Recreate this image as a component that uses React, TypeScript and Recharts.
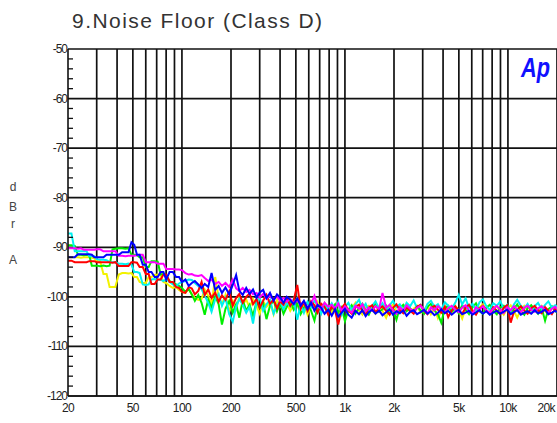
import React from 'react';
import { LineChart, Line, XAxis, YAxis, ReferenceLine } from 'recharts';

const freq = [
  20, 21, 22, 23, 24, 25, 26, 27, 28, 29, 30,
  31.5, 33, 34.5, 36, 37.5, 39, 41, 43, 45, 47, 49,
  51, 53, 55, 57.5, 60, 62.5, 65, 68, 71, 74, 77, 80,
  84, 88, 92, 96, 100, 105, 110, 115, 120, 126, 132, 138,
  145, 152, 160, 168, 176, 185, 195, 205, 215, 225, 236, 248,
  260, 273, 287, 300, 315, 330, 347, 365, 383, 400, 420, 440,
  462, 485, 510, 535, 560, 590, 620, 650, 680, 715, 750, 790,
  830, 870, 910, 955, 1000, 1050, 1100, 1160, 1220, 1280, 1340, 1400,
  1470, 1540, 1620, 1700, 1790, 1880, 1970, 2070, 2170, 2280, 2390, 2510,
  2640, 2770, 2910, 3060, 3210, 3370, 3540, 3720, 3900, 4100, 4300, 4520,
  4750, 4990, 5240, 5500, 5770, 6060, 6370, 6690, 7020, 7370, 7740, 8130,
  8540, 8970, 9420, 9890, 10400, 10900, 11400, 12000, 12600, 13200, 13900, 14600,
  15300, 16100, 16900, 17700, 18600, 19500, 20000,
];

const cyan = [
  -87.2, -87.2, -90.8, -90.8, -90.8, -90.8, -90.8, -91.8, -91.8, -91.8, -92.4,
  -92.5, -92.5, -92.6, -93, -93, -93, -93.3, -93.3, -93.4, -93.3, -93.5,
  -95, -95, -95.2, -97.5, -97.6, -97.5, -96.5, -96.4, -96.6, -96.5, -96.8, -96.4,
  -97, -97.5, -97.8, -97.3, -97, -96.8, -96.5, -96.6, -97.2, -97.8, -98.5, -99.8,
  -101.2, -103, -100.5, -99.4, -101.8, -100.2, -103.5, -105, -102, -100.4, -101.6, -103.2,
  -102, -105.4, -101, -100.2, -102.8, -101.5, -100.6, -103.4, -101.8, -100.9, -102.5, -101.2,
  -101.9, -100.4, -104.6, -101.5, -103.2, -101, -102.1, -100.8, -101.7, -103.4, -101.6, -102.4,
  -101.3, -102.6, -101, -103.6, -102, -101.2, -102.7, -101.5, -100.6, -102.3, -101.4, -102.9,
  -101.8, -100.9, -102.4, -101.3, -102.6, -101.7, -100.8, -102.1, -101.5, -102.8, -101.2, -101.9,
  -100.7, -102.3, -101.6, -102.9, -101.4, -100.8, -102, -101.5, -102.6, -101.1, -101.8, -102.4,
  -101.2, -99.6, -101.5, -100.3, -102.2, -101.4, -102.7, -101.1, -100.5, -101.9, -102.6, -101.3,
  -101.8, -100.9, -102.4, -101.6, -102.9, -101.5, -100.6, -101.8, -102.3, -101.4, -102.8, -101.9,
  -101.2, -102.5, -101.6, -100.9, -102.2, -101.7, -102,
];

const green = [
  -89.6, -89.6, -89.7, -91.5, -91.5, -91.6, -91.5, -91.6, -93.7, -93.7, -93.7,
  -93.8, -93.7, -93.8, -93.7, -90.4, -90.3, -90.2, -90.2, -90.3, -90.2, -91.5,
  -91.5, -91.6, -92, -92, -94, -94, -92.8, -92.8, -92.9, -95.5, -95.4, -95.6,
  -96.8, -97.2, -97.5, -97.8, -98.2, -99, -98.4, -99.5, -100.8, -99.6, -101.2, -103.6,
  -100.5, -102.2, -99.8, -101.5, -105.6, -102.4, -100.8, -103.2, -101.5, -104.2, -100.6, -102.8,
  -101.6, -103.8, -100.9, -102.3, -101.2, -104.5, -101.8, -100.7, -102.9, -101.3, -103.4, -102,
  -100.8, -102.6, -101.4, -103.5, -102.2, -101.1, -102.8, -104.8, -101.9, -102.6, -101.3, -103.1,
  -102.4, -101.5, -103.2, -102.1, -104.9, -102.6, -101.7, -103.4, -102.2, -101.4, -102.9, -103.6,
  -102.1, -101.3, -103, -102.5, -101.8, -103.5, -102.4, -104.6, -102.2, -101.6, -102.9, -102.3,
  -103.2, -101.9, -102.7, -103.4, -102, -101.4, -102.8, -103.5, -105.2, -102.3, -101.8, -103,
  -102.4, -103.3, -101.7, -102.6, -103.5, -102.1, -101.3, -102.9, -103.4, -102.2, -101.6, -102.8,
  -103.5, -102.1, -101.8, -102.7, -103.2, -102.4, -101.5, -102.9, -103.6, -102.3, -101.7, -102.6,
  -103.4, -102.2, -104.8, -102.5, -101.9, -102.8, -103.2,
];

const yellow = [
  -92, -92, -92, -92, -92.1, -92, -92, -92, -92.1, -92.2, -92.8,
  -92.8, -95.4, -95.4, -98, -98, -98, -95.5, -95.2, -95.2, -95.3, -95.2,
  -96, -96, -97, -97.2, -97.2, -96, -96, -95.6, -95.5, -95.6, -97, -97.2,
  -97.8, -98.2, -98, -98.6, -99, -99.2, -98.4, -99.5, -100.2, -100.6, -100.4, -98.5,
  -99.8, -101.4, -96, -100.2, -101.5, -99.6, -103, -100.8, -102.4, -99.9, -101.6, -100.5,
  -102.2, -100.4, -101.8, -103.4, -100.9, -102, -101.2, -103.5, -100.6, -101.9, -102.6, -101.3,
  -102.8, -101.6, -100.2, -102.4, -101.5, -103.6, -101.8, -102.5, -101, -102.9, -101.4, -102.2,
  -103.2, -101.7, -104.8, -102.4, -101.6, -103, -102.3, -101.2, -102.8, -103.6, -102.1, -101.8,
  -102.6, -103.4, -101.9, -102.8, -104.2, -102.3, -101.6, -102.9, -103.3, -102, -101.5, -103.1,
  -102.4, -101.8, -103.2, -102.6, -101.7, -103.5, -102.2, -104.3, -102.8, -101.9, -102.5, -103.2,
  -101.8, -102.7, -104.4, -102.3, -101.6, -102.8, -103.4, -102.1, -101.5, -102.6, -103.5, -102.2,
  -101.9, -102.8, -103.6, -102.4, -101.7, -102.9, -104.2, -102.5, -101.8, -102.7, -103.3, -102.1,
  -102.6, -101.8, -102.9, -103.5, -102.3, -101.9, -102.4,
];

const red = [
  -92.7, -92.7, -93, -93, -93, -93, -93, -92.8, -92.8, -92.8, -93,
  -93, -93, -93, -93, -93.1, -93, -93.8, -93.8, -93.8, -93.8, -93,
  -93, -93.1, -94, -94, -95.4, -95.4, -97.4, -97.4, -96.5, -96.5, -95.5, -95.5,
  -97, -97, -98, -98.2, -99, -99.2, -98, -98.3, -99.5, -98.8, -97, -99.6,
  -98.5, -100.2, -99.1, -101, -99.7, -100.6, -98.9, -101.8, -100.2, -99.4, -101.2, -100,
  -99.3, -101.5, -100.4, -102.2, -100.8, -99.6, -101.4, -100.5, -102.3, -100.9, -101.6, -100.2,
  -101.8, -100.7, -97.6, -102.4, -101.1, -102.8, -100.9, -101.7, -103.2, -101.4, -102, -103.6,
  -101.9, -102.7, -105.6, -102.3, -101.4, -102.8, -103.4, -102.1, -101.6, -102.9, -103.5, -102.2,
  -101.7, -103.1, -102.4, -101.9, -102.8, -103.6, -102.2, -101.5, -102.7, -103.3, -102.1, -102.8,
  -103.4, -102, -101.6, -102.9, -103.5, -102.3, -101.8, -102.6, -103.2, -102, -104.1, -102.7,
  -101.9, -102.8, -103.4, -102.2, -101.6, -102.9, -103.6, -102.4, -101.8, -102.7, -103.3, -102.1,
  -102.8, -103.5, -102.2, -101.7, -105.2, -102.9, -102.6, -101.9, -102.8, -103.4, -102.3, -101.8,
  -102.7, -103.3, -102.1, -102.8, -103.5, -102.4, -102.6,
];

const magenta = [
  -90.2, -90.2, -90.2, -90.3, -90.2, -90.5, -90.5, -90.5, -90.5, -90.5, -90.4,
  -90.4, -90.8, -90.8, -90.8, -90.8, -90.8, -91.7, -91.7, -91.8, -91.7, -91.7,
  -91.7, -91.6, -91.5, -91.5, -93, -93, -93, -93, -93.3, -93.3, -93.3, -94.4,
  -94.4, -94.4, -94.5, -94.5, -94.6, -95.2, -95.5, -95.4, -95.7, -95.8, -95.6, -96.2,
  -96.8, -96.5, -97.4, -97, -97.8, -97.2, -98, -96.5, -98.3, -98.8, -98.2, -99,
  -98.6, -99.5, -99.2, -100.1, -99.4, -100.3, -99.8, -100.6, -99.9, -100.8, -100.2, -101,
  -100.4, -101.3, -100.7, -101.6, -100.9, -102.2, -101.4, -99.8, -101.8, -102.5, -101.2, -102,
  -101.6, -102.4, -101.3, -102.8, -101.9, -102.6, -103.2, -101.8, -102.4, -101.5, -102.9, -102.2,
  -102.8, -101.9, -102.5, -99.2, -102.2, -101.6, -102.7, -103.4, -102.1, -102.8, -101.7, -102.4,
  -102.9, -102.2, -101.8, -102.6, -103.3, -102.1, -102.7, -101.9, -102.5, -103.2, -102.3, -101.8,
  -102.6, -103.1, -102.2, -101.7, -102.8, -103.4, -102.1, -102.6, -101.9, -102.7, -103.2, -102.4,
  -101.8, -102.6, -103.3, -102.1, -102.7, -101.9, -102.5, -103.1, -102.2, -101.8, -102.6, -103,
  -102.3, -101.9, -102.7, -103.2, -102.4, -102, -102.5,
];

const blue = [
  -92, -92, -92, -91.4, -91.4, -91.4, -91.4, -91.4, -91.5, -92, -92,
  -92, -92, -91.5, -91.5, -91.5, -91.5, -91.5, -91, -91, -91, -89,
  -89.5, -91.5, -91.5, -93.5, -93.5, -95, -95, -96, -96, -95, -95, -96.5,
  -95, -95, -96, -96, -97, -96.5, -97.8, -97.2, -96.8, -97.5, -98.2, -97.4,
  -98, -95.2, -98.6, -97.8, -99.2, -98.1, -99.5, -97.6, -95.6, -98.8, -99.6, -98.2,
  -99.4, -98.5, -100.2, -99.1, -98.6, -100.3, -99.2, -100.8, -99.5, -100.1, -101.2, -100,
  -100.6, -101.5, -100.3, -101.8, -100.8, -102.4, -101.2, -102.8, -101.6, -102.2, -103.4, -102.6,
  -103.8, -102.5, -104, -103.2, -102.4, -103.6, -104.2, -102.8, -103.5, -102.7, -103.9, -103.1,
  -102.6, -103.4, -102.8, -103.7, -103.1, -102.5, -103.6, -102.9, -103.3, -102.7, -103.8, -103,
  -102.7, -103.5, -103.1, -102.6, -103.4, -102.9, -103.7, -103.2, -102.5, -103.3, -102.8, -103.6,
  -103, -102.6, -103.5, -103.2, -102.8, -103.6, -103.1, -102.7, -103.4, -102.9, -103.6, -103.2,
  -102.8, -103.4, -103, -102.6, -103.5, -103.1, -102.7, -103.6, -103.2, -102.9, -103.4, -102.7,
  -103.3, -103, -102.6, -103.5, -103.2, -102.8, -103.1,
];

const xTicks = [20, 50, 100, 200, 500, 1000, 2000, 5000, 10000, 20000];
const xTickLabels = ['20', '50', '100', '200', '500', '1k', '2k', '5k', '10k', '20k'];
const xGrid = [
  30, 40, 50, 60, 70, 80, 90, 100,
  200, 300, 400, 500, 600, 700, 800, 900, 1000,
  2000, 3000, 4000, 5000, 6000, 7000, 8000, 9000, 10000, 20000,
];
const yTicks = [
  -120, -118, -116, -114, -112, -110, -108, -106, -104, -102, -100,
  -98, -96, -94, -92, -90, -88, -86, -84, -82, -80, -78, -76, -74, -72, -70,
  -68, -66, -64, -62, -60, -58, -56, -54, -52, -50,
];
const yGrid = [-120, -110, -100, -90, -80, -70, -60, -50];

const seriesOrder = [
  { key: 'yellow', color: '#f2f200' },
  { key: 'green', color: '#00ee00' },
  { key: 'cyan', color: '#00f0f0' },
  { key: 'red', color: '#ff0000' },
  { key: 'magenta', color: '#ff00ff' },
  { key: 'blue', color: '#0000ff' },
];

const data = freq.map((f, i) => ({
  f,
  cyan: cyan[i],
  green: green[i],
  yellow: yellow[i],
  red: red[i],
  magenta: magenta[i],
  blue: blue[i],
}));

const TICK_FONT = '"Liberation Sans Narrow", "Liberation Sans", Arial, sans-serif';

const XTick = (props: any) => {
  const { x, y, payload } = props;
  const idx = xTicks.indexOf(payload.value);
  const label = idx >= 0 ? xTickLabels[idx] : String(payload.value);
  const last = idx === xTicks.length - 1;
  return (
    <text
      x={last ? x - 2 : x}
      y={y}
      dy={8}
      textAnchor={last ? 'end' : 'middle'}
      fontFamily={TICK_FONT}
      fontSize={12}
      fill="#222"
      letterSpacing={-0.6}
    >
      {label}
    </text>
  );
};

const YTick = (props: any) => {
  const { y, payload } = props;
  const v = payload.value;
  const major = v % 10 === 0;
  if (major) {
    return (
      <text
        x={67}
        y={y}
        dy={4}
        textAnchor="end"
        fontFamily={TICK_FONT}
        fontSize={12}
        fill="#222"
        letterSpacing={-1}
      >
        {String(v)}
      </text>
    );
  }
  return <line x1={68} x2={73} y1={y} y2={y} stroke="#111" strokeWidth={1.3} />;
};

export default function App() {
  return (
    <div style={{ position: 'absolute', left: 0, top: 0, width: 557, height: 423, background: '#fff', overflow: 'hidden' }}>
      <LineChart
        width={557}
        height={423}
        data={data}
        margin={{ top: 49, right: 0, bottom: 0, left: 0 }}
      >
        <XAxis
          dataKey="f"
          type="number"
          scale="log"
          domain={[20, 20000]}
          ticks={xTicks}
          tick={<XTick />}
          tickLine={false}
          axisLine={{ stroke: '#111', strokeWidth: 1.6 }}
          height={27}
          allowDataOverflow
          interval={0}
        />
        <YAxis
          type="number"
          domain={[-120, -50]}
          ticks={yTicks}
          tick={<YTick />}
          tickLine={false}
          axisLine={{ stroke: '#111', strokeWidth: 1.6 }}
          width={68}
          allowDataOverflow
          interval={0}
        />
        {xGrid.map((g) => (
          <ReferenceLine key={'x' + g} x={g} stroke="#111" strokeWidth={1.7} />
        ))}
        {yGrid.map((g) => (
          <ReferenceLine key={'y' + g} y={g} stroke="#111" strokeWidth={1.7} />
        ))}
        {seriesOrder.map((s) => (
          <Line
            key={s.key}
            dataKey={s.key}
            stroke={s.color}
            strokeWidth={2}
            dot={false}
            isAnimationActive={false}
            type="linear"
          />
        ))}
      </LineChart>
      <svg width={557} height={423} style={{ position: 'absolute', left: 0, top: 0, pointerEvents: 'none' }}>
        <text
          x={72}
          y={28}
          fontFamily='"Liberation Sans", Arial, sans-serif'
          fontSize={21}
          fill="#333"
          textLength={250}
          lengthAdjust="spacing"
        >
          9.Noise Floor (Class D)
        </text>
        <g fontFamily='"Liberation Sans", Arial, sans-serif' fontSize={12} fill="#444" textAnchor="middle">
          <text x={13} y={191}>d</text>
          <text x={13} y={211}>B</text>
          <text x={13} y={228}>r</text>
          <text x={13} y={264}>A</text>
        </g>
        <text
          x={521}
          y={77}
          fontFamily='"Liberation Sans", Arial, sans-serif'
          fontSize={28}
          fontWeight="bold"
          fontStyle="italic"
          fill="#1010ff"
          textLength={29}
          lengthAdjust="spacingAndGlyphs"
        >
          Ap
        </text>
      </svg>
    </div>
  );
}
